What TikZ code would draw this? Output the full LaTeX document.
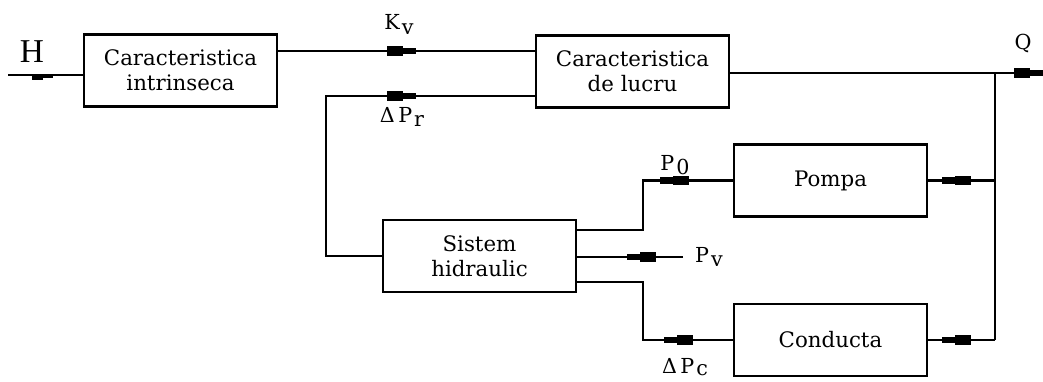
\documentclass[tikz,border=0pt]{standalone}
\usepackage{fontspec}
\setmainfont{DejaVu Serif}
\newfontfamily\hfont{Liberation Serif}
\usetikzlibrary{decorations.markings}
\newcommand{\lowidx}[1]{\hspace{1.5pt}\raisebox{-3.5pt}{#1}}
\tikzset{
  block/.style={draw,line width=2.2pt,minimum width=144.75pt,minimum height=54pt,
                inner sep=0pt,align=center,font=\fontsize{16}{19}\selectfont},
  sig/.style={line width=2.2pt},
  lab/.style={anchor=base,inner sep=0pt,font=\fontsize{15.5}{18}\selectfont},
  flowmark/.style={postaction={decorate},decoration={markings,mark=at position #1 with {%
      \fill (-12pt,-3.5pt) rectangle (0pt,3.5pt);
      \fill (0pt,-2.4pt) rectangle (9.75pt,2.4pt);}}},
  lowmark/.style={postaction={decorate},decoration={markings,mark=at position #1 with {%
      \fill (-8.25pt,-0.8pt) rectangle (0pt,-3.8pt);
      \fill (0pt,-0.8pt) rectangle (7.5pt,-2.4pt);}}},
}
\begin{document}
\begin{tikzpicture}[x=0.75pt,y=-0.75pt]
  \useasboundingbox (0,0) rectangle (1043,382);
  % blocks
  \node[block] (intr) at (180.5,70.5) {Caracteristica\\intrinseca};
  \node[block] (lucru) at (632.5,71.5) {Caracteristica\\de lucru};
  \node[block] (sh) at (479.5,256) {Sistem\\hidraulic};
  \node[block] (pompa) at (830.5,180.5) {Pompa};
  \node[block] (cond) at (830.5,340) {Conducta};
  % helper points
  \coordinate (hin) at (8,75);
  \coordinate (kvrow) at (0,51);
  \coordinate (dpr) at (326,96);
  \coordinate (qout) at (1043,73);
  \coordinate (bus) at (995,73);
  \coordinate (tapcol) at (643,0);
  \coordinate (pvin) at (683,257);
  % connectors
  \draw[sig,lowmark=26.25pt] (hin) -- (hin -| intr.west);
  \draw[sig,flowmark=-99pt] (intr.east |- kvrow) -- (lucru.west |- kvrow);
  \draw[sig,flowmark=-99pt] (sh.west) -| (dpr) -- (dpr -| lucru.west);
  \draw[sig,flowmark=-9.75pt] (lucru.east |- qout) -- (qout);
  \draw[sig] (bus) -- (bus |- cond.east);
  \draw[sig,flowmark=30pt] (bus |- pompa.east) -- (pompa.east);
  \draw[sig,flowmark=30pt] (bus |- cond.east) -- (cond.east);
  \draw[sig,flowmark=45pt] (pompa.west) -- (pompa.west -| tapcol) |- ([yshift=19.5pt]sh.east);
  \draw[sig,flowmark=32.25pt] (pvin) -- (pvin -| sh.east);
  \draw[sig,flowmark=42pt] (cond.west) -- (cond.west -| tapcol) |- ([yshift=-19.5pt]sh.east);
  % labels
  \node[lab,font=\hfont\fontsize{25}{28}\selectfont] (hlab) at (32,62) {H};
  \node[lab] (kvlab) at (399,30) {K\lowidx{v}};
  \node[lab] (dprlab) at (402,122) {Δ\,P\lowidx{r}};
  \node[lab] (p0lab) at (675,170) {P\lowidx{0}};
  \node[lab] (pvlab) at (709,262) {P\lowidx{v}};
  \node[lab] (dpclab) at (685,373) {Δ\,P\hspace{1.5pt}\raisebox{-2.2pt}{c}};
  \node[lab] (qlab) at (1023,49) {Q};
\end{tikzpicture}
\end{document}
